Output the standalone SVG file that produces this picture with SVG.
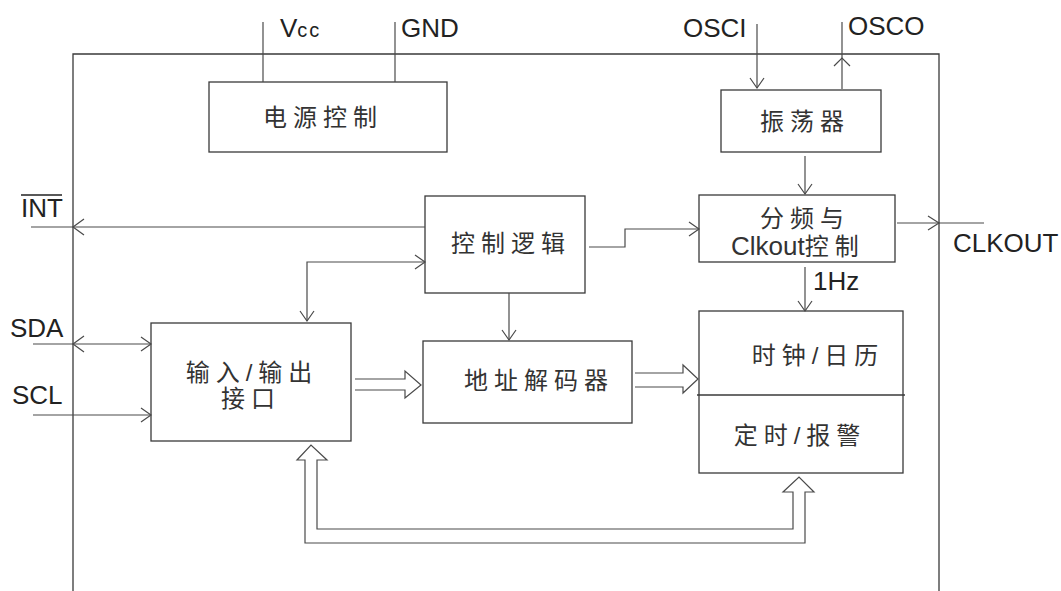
<svg xmlns="http://www.w3.org/2000/svg" width="1061" height="591" viewBox="0 0 1061 591">
<style>
.box{fill:none;stroke:#3a3a3a;stroke-width:1.3}
.ln{fill:none;stroke:#4a4a4a;stroke-width:1.2}
.cn{font-family:"Liberation Sans","Noto Sans CJK SC",sans-serif;font-size:24px;fill:#333;dominant-baseline:central;text-anchor:middle;letter-spacing:6px}
.lb{font-family:"Liberation Sans","Noto Sans CJK SC",sans-serif;font-size:26px;fill:#222}
</style>
<defs>
<marker id="ah" markerWidth="14" markerHeight="18" refX="11" refY="8" orient="auto-start-reverse" markerUnits="userSpaceOnUse">
<path d="M1,1 L11,8 L1,15" fill="none" stroke="#4a4a4a" stroke-width="1.2"/>
</marker>
</defs>
<rect width="1061" height="591" fill="#fff"/>
<g id="chip"><path class="box" d="M73,591 V54 H939 V591"/></g>

<g id="power"><rect class="box" x="209" y="82" width="238" height="70"/><text class="cn" x="323" y="117">电源控制</text></g>
<g id="osc"><rect class="box" x="721" y="90" width="160" height="62"/><text class="cn" x="805" y="121">振荡器</text></g>
<g id="logic"><rect class="box" x="425" y="196" width="160" height="97"/><text class="cn" x="511" y="243">控制逻辑</text></g>
<g id="divider"><rect class="box" x="699" y="195" width="196" height="67"/><text class="cn" x="805" y="218">分频与</text>
<text x="731" y="255" style="font-family:'Liberation Sans','Noto Sans CJK SC',sans-serif;fill:#333"><tspan font-size="26">Clkout</tspan><tspan font-size="24" letter-spacing="6">控制</tspan></text></g>
<g id="io"><rect class="box" x="151" y="323" width="200" height="118"/><text class="cn" x="252" y="372" letter-spacing="4">输入/输出</text><text class="cn" x="251" y="398">接口</text></g>
<g id="decoder"><rect class="box" x="423" y="341" width="209" height="82"/><text class="cn" x="539" y="380">地址解码器</text></g>
<g id="rtc"><rect class="box" x="699" y="311" width="204" height="162"/><line class="box" x1="697" y1="395" x2="905" y2="395"/><text class="cn" x="818" y="355">时钟/日历</text><text class="cn" x="800" y="435">定时/报警</text></g>

<g id="labels">
<text class="lb" x="280" y="37">V<tspan font-size="20" letter-spacing="2">cc</tspan></text>
<text class="lb" x="401" y="37">GND</text>
<text class="lb" x="683" y="37">OSCI</text>
<text class="lb" x="848" y="35">OSCO</text>
<text class="lb" x="21" y="217">INT</text>
<line x1="21" y1="195" x2="62" y2="195" stroke="#222" stroke-width="1.5"/>
<text class="lb" x="10" y="337">SDA</text>
<text class="lb" x="12" y="404">SCL</text>
<text class="lb" x="953" y="252">CLKOUT</text>
<text class="lb" x="813" y="290">1Hz</text>
</g>

<g id="connectors">
<line class="ln" x1="263" y1="22" x2="263" y2="82"/>
<line class="ln" x1="395" y1="22" x2="395" y2="82"/>
<line class="ln" x1="757" y1="24" x2="757" y2="88" marker-end="url(#ah)"/>
<line class="ln" x1="842" y1="89" x2="842" y2="22"/>
<polyline class="ln" points="834,66 842,58 850,66"/>
<line class="ln" x1="805" y1="156" x2="805" y2="194" marker-end="url(#ah)"/>
<line class="ln" x1="31" y1="227" x2="425" y2="227"/>
<polyline class="ln" points="84,219 73,227 84,235"/>
<polyline class="ln" points="307,321 307,262 425,262" marker-start="url(#ah)" marker-end="url(#ah)"/>
<polyline class="ln" points="589,247 625,247 625,229 699,229" marker-end="url(#ah)"/>
<line class="ln" x1="897" y1="223" x2="984" y2="223"/>
<polyline class="ln" points="928,216 939,223 928,230"/>
<line class="ln" x1="805" y1="267" x2="805" y2="311" marker-end="url(#ah)"/>
<line class="ln" x1="509" y1="293" x2="509" y2="340" marker-end="url(#ah)"/>
<line class="ln" x1="33" y1="344" x2="151" y2="344" marker-end="url(#ah)"/>
<polyline class="ln" points="84,336 73,344 84,352"/>
<line class="ln" x1="33" y1="415" x2="151" y2="415" marker-end="url(#ah)"/>
<polyline class="ln" points="355,379 405,379 405,371 421,385 405,398 405,390 355,390"/>
<polyline class="ln" points="635,373 683,373 683,365 698,379 683,393 683,387 635,387"/>
<polygon class="ln" points="305,543 305,460 297,460 311,445 327,460 317,460 317,529 793,529 793,492 783,492 799,477 814,492 805,492 805,543"/>
</g>
</svg>
